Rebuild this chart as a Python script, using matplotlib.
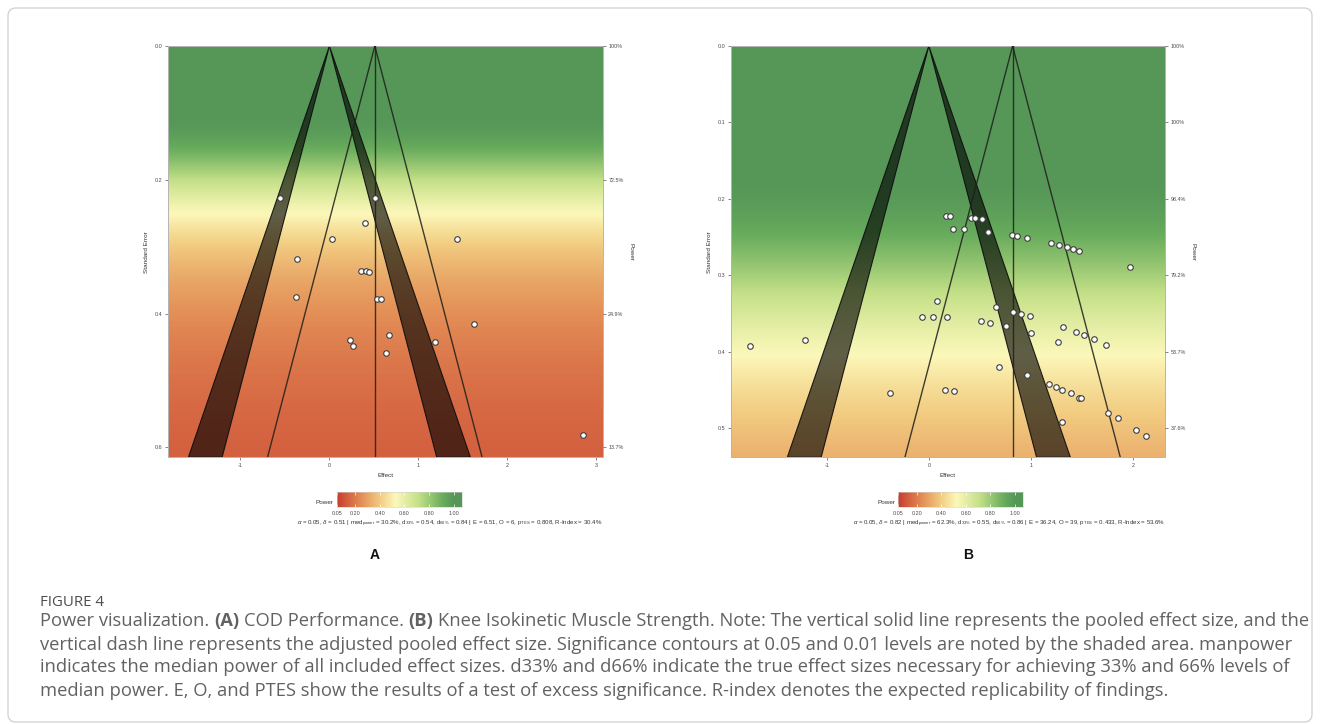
import math
import numpy as np
import matplotlib
matplotlib.use("Agg")
import matplotlib.pyplot as plt
from matplotlib.colors import LinearSegmentedColormap, Normalize
from matplotlib.patches import Polygon, FancyBboxPatch

# ---------------- data ----------------
A_effect = [-0.55, 0.51, 0.40, 0.03, 1.43, -0.36, 0.36, 0.41, 0.45, -0.37,
            0.53, 0.58, 1.62, 0.67, 0.23, 0.26, 1.19, 0.63, 2.85]
A_se = [0.228, 0.227, 0.264, 0.289, 0.288, 0.318, 0.337, 0.337, 0.338, 0.375,
        0.378, 0.379, 0.415, 0.432, 0.439, 0.449, 0.443, 0.459, 0.581]

B_effect = [0.17, 0.21, 0.41, 0.45, 0.52, 0.24, 0.34, 0.58, 0.81, 0.86,
            0.96, 1.20, 1.27, 1.35, 1.41, 1.47, 1.97,
            0.075, -0.07, 0.04, 0.175, 0.66, 0.51, 0.60, 0.76, 0.825, 0.90,
            0.995, 1.005, 1.31, 1.44, 1.52, 1.615, 1.265, 1.735,
            -1.75, -1.21,
            0.685, 0.96, 1.18, 1.24, 1.305, 1.39, 1.47, 1.485,
            -0.385, 0.16, 0.25,
            1.305, 1.75, 1.85, 2.03, 2.125]
B_se = [0.223, 0.223, 0.225, 0.225, 0.226, 0.239, 0.240, 0.243, 0.2475, 0.2485,
        0.251, 0.258, 0.2606, 0.2632, 0.2654, 0.268, 0.2893,
        0.333, 0.354, 0.354, 0.354, 0.342, 0.3595, 0.3617, 0.366, 0.3473, 0.350,
        0.3534, 0.3752, 0.3673, 0.3743, 0.3782, 0.3839, 0.3874, 0.3913,
        0.3923, 0.3849,
        0.420, 0.431, 0.4423, 0.4458, 0.4497, 0.4545, 0.4601, 0.461,
        0.4534, 0.450, 0.451,
        0.4922, 0.4797, 0.4872, 0.5022, 0.510]

A_delta = 0.51
B_delta = 0.82

A_se_ticks = [0.0, 0.2, 0.4, 0.6]
A_se_labels = ["0.0", "0.2", "0.4", "0.6"]
A_power_labels = ["100%", "72.5%", "24.9%", "13.7%"]
A_x_ticks = [-1, 0, 1, 2, 3]

B_se_ticks = [0.0, 0.1, 0.2, 0.3, 0.4, 0.5]
B_se_labels = ["0.0", "0.1", "0.2", "0.3", "0.4", "0.5"]
B_power_labels = ["100%", "100%", "98.4%", "79.2%", "53.7%", "37.6%"]
B_x_ticks = [-1, 0, 1, 2]

A_xlim = (-1.81, 3.07)
A_semax = 0.615
B_xlim = (-1.94, 2.315)
B_semax = 0.538

cbar_ticks = [0.05, 0.20, 0.40, 0.60, 0.80, 1.00]
cbar_labels = ["0.05", "0.20", "0.40", "0.60", "0.80", "1.00"]

A_stats = (r"$\alpha$ = 0.05, $\delta$ = 0.51 | med$_{\mathregular{power}}$ = 30.2%, "
           r"d$_{\mathregular{33\%}}$ = 0.54, d$_{\mathregular{66\%}}$ = 0.84 | E = 6.51, O = 6, "
           r"p$_{\mathregular{TES}}$ = 0.808, R-Index = 30.4%")
B_stats = (r"$\alpha$ = 0.05, $\delta$ = 0.82 | med$_{\mathregular{power}}$ = 62.3%, "
           r"d$_{\mathregular{33\%}}$ = 0.55, d$_{\mathregular{66\%}}$ = 0.86 | E = 36.24, O = 39, "
           r"p$_{\mathregular{TES}}$ = 0.433, R-Index = 53.6%")

caption_title = "FIGURE 4"
caption_lines = [
    [("Power visualization. ", "normal"), ("(A)", "bold"), (" COD Performance. ", "normal"),
     ("(B)", "bold"),
     (" Knee Isokinetic Muscle Strength. Note: The vertical solid line represents the pooled effect size, and the", "normal")],
    [("vertical dash line represents the adjusted pooled effect size. Significance contours at 0.05 and 0.01 levels are noted by the shaded area. manpower", "normal")],
    [("indicates the median power of all included effect sizes. d33% and d66% indicate the true effect sizes necessary for achieving 33% and 66% levels of", "normal")],
    [("median power. E, O, and PTES show the results of a test of excess significance. R-index denotes the expected replicability of findings.", "normal")],
]

# ---------------- styling ----------------
W, H = 1320, 724
fig = plt.figure(figsize=(W / 100, H / 100), dpi=100)
fig.patch.set_facecolor("white")
plt.rcParams["mathtext.fontset"] = "custom"
plt.rcParams["mathtext.rm"] = "Liberation Sans"
plt.rcParams["mathtext.it"] = "Liberation Sans:italic"
plt.rcParams["font.family"] = ["Liberation Sans", "DejaVu Sans"]

cmap = LinearSegmentedColormap.from_list("pw", [
    (0.00, (200/255, 62/255, 46/255)),
    (0.21, (228/255, 145/255, 88/255)),
    (0.37, (242/255, 205/255, 130/255)),
    (0.50, (252/255, 248/255, 186/255)),
    (0.70, (196/255, 224/255, 136/255)),
    (0.91, (104/255, 172/255, 92/255)),
    (1.00, (86/255, 151/255, 88/255)),
])
norm = Normalize(0.05, 1.0)
Z = 1.959964
Z2 = 2.575829


def Phi(v):
    return 0.5 * (1 + math.erf(v / math.sqrt(2)))


def power(delta, se):
    if se <= 0:
        return 1.0
    r = delta / se
    return Phi(r - Z) + Phi(-r - Z)


def px_rect(x0, y0, x1, y1):
    return [x0 / W, 1 - y1 / H, (x1 - x0) / W, (y1 - y0) / H]


TICK_FS = 3.9
LAB_FS = 4.6
TXT_COL = "#4a4a4a"


def panel(rect, eff, se, delta, xlim, semax, xticks, seticks, selabels, powlabels):
    ax = fig.add_axes(rect)
    ses = np.linspace(0, semax, 600)
    pw = np.array([power(delta, s) for s in ses])
    rgba = cmap(norm(np.clip(pw, 0.05, 1.0)))[:, None, :]
    ax.imshow(rgba, extent=(xlim[0], xlim[1], semax, 0), origin="upper",
              aspect="auto", interpolation="bilinear", zorder=0)
    # significance bands
    for sgn in (-1, 1):
        tri = Polygon([(0, 0), (sgn * Z * semax, semax), (sgn * Z2 * semax, semax)],
                      closed=True, facecolor=(0, 0, 0, 0.62),
                      edgecolor=(0.05, 0.05, 0.05, 0.9), lw=0.8, zorder=2)
        ax.add_patch(tri)
    # funnel around pooled effect
    lc = (0.12, 0.12, 0.1, 0.85)
    ax.plot([delta, delta - Z * semax], [0, semax], color=lc, lw=1.0, zorder=3)
    ax.plot([delta, delta + Z * semax], [0, semax], color=lc, lw=1.0, zorder=3)
    ax.plot([delta, delta], [0, semax], color=lc, lw=1.0, zorder=3)
    ax.plot(eff, se, "o", ms=4.0, mfc="white", mec="#3c3c3c", mew=0.8, zorder=5,
            linestyle="none")
    ax.set_xlim(*xlim)
    ax.set_ylim(semax, 0)
    ax.set_xticks(xticks)
    ax.set_xticklabels([str(t) for t in xticks])
    ax.set_yticks(seticks)
    ax.set_yticklabels(selabels)
    ax.tick_params(labelsize=TICK_FS, length=2.5, width=0.5, colors="#555555",
                   labelcolor=TXT_COL, pad=1.5)
    for s in ax.spines.values():
        s.set_color("#b5b5b5")
        s.set_linewidth(0.7)
    ax.set_xlabel("Effect", fontsize=LAB_FS, color="#333333", labelpad=4)
    ax.set_ylabel("Standard Error", fontsize=LAB_FS, color="#333333", labelpad=4)
    ax2 = ax.twinx()
    ax2.set_ylim(semax, 0)
    ax2.set_yticks(seticks)
    ax2.set_yticklabels(powlabels)
    ax2.tick_params(labelsize=TICK_FS, length=2.5, width=0.5, colors="#555555",
                    labelcolor=TXT_COL, pad=1.5)
    for s in ax2.spines.values():
        s.set_visible(False)
    ax2.set_ylabel("Power", fontsize=LAB_FS, color="#333333", rotation=270,
                   labelpad=7)
    return ax


axA = panel(px_rect(168.3, 46, 602.7, 457.3), A_effect, A_se, A_delta, A_xlim, A_semax,
            A_x_ticks, A_se_ticks, A_se_labels, A_power_labels)
axB = panel(px_rect(730.7, 46, 1165.3, 457.3), B_effect, B_se, B_delta, B_xlim, B_semax,
            B_x_ticks, B_se_ticks, B_se_labels, B_power_labels)


def colorbar(x0, x1, y0, y1):
    cax = fig.add_axes(px_rect(x0, y0, x1, y1))
    xs = np.linspace(0.05, 1.065, 400)
    rgba = cmap(norm(np.clip(xs, 0.05, 1.0)))[None, :, :]
    cax.imshow(rgba, extent=(0.05, 1.065, 0, 1), aspect="auto", origin="lower")
    cax.set_xlim(0.05, 1.065)
    cax.set_ylim(0, 1)
    cax.set_yticks([])
    cax.set_xticks(cbar_ticks)
    cax.set_xticklabels(cbar_labels)
    cax.tick_params(labelsize=TICK_FS, length=0, pad=3.0, labelcolor=TXT_COL)
    cax.vlines(cbar_ticks, 0, 0.2, color="white", lw=0.5)
    cax.vlines(cbar_ticks, 0.8, 1, color="white", lw=0.5)
    for s in cax.spines.values():
        s.set_color("#cfcfcf")
        s.set_linewidth(0.4)
    fig.text((x0 - 3) / W, 1 - 503 / H, "Power", fontsize=LAB_FS, color="#333333",
             ha="right", va="center")


colorbar(336.7, 461.7, 492.3, 506.7)
colorbar(898.3, 1022.7, 492.3, 506.7)

STATS_FS = 4.4
fig.text(602.7 / W, 1 - 524 / H, A_stats, fontsize=STATS_FS, color="#333333",
         ha="right", va="center")
fig.text(1165.3 / W, 1 - 524 / H, B_stats, fontsize=STATS_FS, color="#333333",
         ha="right", va="center")
fig.text(375 / W, 1 - 555 / H, "A", fontsize=10, fontweight="bold", color="#111111",
         ha="center", va="center")
fig.text(968 / W, 1 - 555 / H, "B", fontsize=10, fontweight="bold", color="#111111",
         ha="center", va="center")

# ---------------- caption ----------------
CAP_FONT = ["Open Sans", "DejaVu Sans"]
renderer = fig.canvas.get_renderer()


def text_width(s, size, weight):
    t = fig.text(0, 0, s, fontsize=size, fontweight=weight, family=CAP_FONT)
    w = t.get_window_extent(renderer).width
    t.remove()
    return w


def seg_width(s, size, weight, spw):
    core = s.strip(" ")
    lead = len(s) - len(s.lstrip(" "))
    trail = len(s) - len(s.rstrip(" "))
    return (text_width(core, size, weight) if core else 0) + (lead + trail) * spw


base = 10.0
spw_base = text_width("x x", base, "normal") - text_width("xx", base, "normal")
w1 = sum(seg_width(s, base, wt, spw_base) for s, wt in caption_lines[0])
cap_size = base * (1266.0 / w1)
spw = text_width("x x", cap_size, "normal") - text_width("xx", cap_size, "normal")

fig.text(40 / W, 1 - 602 / H, caption_title, fontsize=cap_size * 0.82,
         family=CAP_FONT, color="#4d4d4d", ha="left", va="center")
line_y = [621, 644.5, 667.5, 690.5]
CAP_COL = "#626262"
for segs, yy in zip(caption_lines, line_y):
    x = 40.0
    for s, wt in segs:
        core = s.strip(" ")
        lead = len(s) - len(s.lstrip(" "))
        trail = len(s) - len(s.rstrip(" "))
        x += lead * spw
        t = fig.text(x / W, 1 - yy / H, core, fontsize=cap_size, fontweight=wt,
                     family=CAP_FONT, color=CAP_COL, ha="left", va="center")
        x += t.get_window_extent(renderer).width + trail * spw

# figure frame
frame = FancyBboxPatch((8 / 100, 2 / 100), (1312 - 8) / 100, (722 - 8) / 100 - 0.0,
                       boxstyle="round,pad=0,rounding_size=0.08",
                       transform=fig.dpi_scale_trans, facecolor="none",
                       edgecolor="#d4d4d4", lw=1.0)
fig.add_artist(frame)

fig.savefig("out.png", dpi=100)
